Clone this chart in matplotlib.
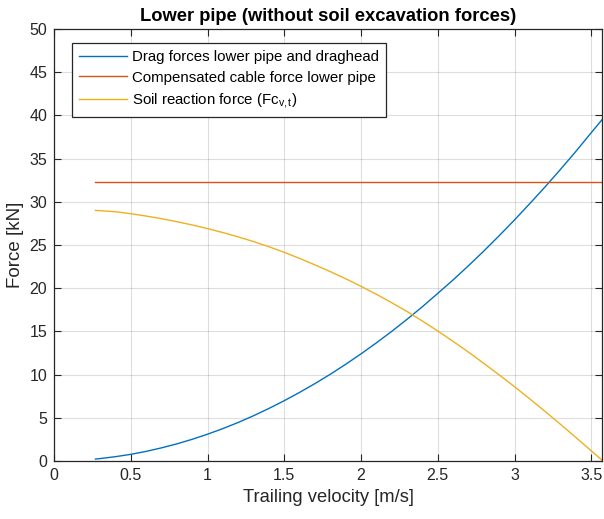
import matplotlib
matplotlib.use("Agg")
import matplotlib.pyplot as plt

plt.rcParams['font.family'] = ['Liberation Sans', 'DejaVu Sans']
plt.rcParams['mathtext.fontset'] = 'custom'
plt.rcParams['mathtext.rm'] = 'Liberation Sans'
plt.rcParams['mathtext.it'] = 'Liberation Sans'

velocity = [0.27, 0.3, 0.4, 0.5, 0.6, 0.7, 0.8, 0.9, 1.0, 1.1, 1.2, 1.3, 1.4, 1.5,
            1.6, 1.7, 1.8, 1.9, 2.0, 2.1, 2.2, 2.3, 2.4, 2.5, 2.6, 2.7, 2.8, 2.9,
            3.0, 3.1, 3.2, 3.3, 3.4, 3.5, 3.57]
drag_force = [0.22, 0.28, 0.50, 0.77, 1.11, 1.52, 1.98, 2.51, 3.1, 3.75, 4.46, 5.24,
              6.08, 6.98, 7.94, 8.96, 10.04, 11.19, 12.4, 13.67, 15.0, 16.4, 17.86,
              19.4, 20.96, 22.6, 24.3, 26.07, 27.9, 29.8, 31.74, 33.76, 35.84, 38.0, 39.5]
cable_force = [32.25] * len(velocity)
soil_force = [29.0, 28.97, 28.85, 28.62, 28.35, 28.05, 27.7, 27.32, 26.9, 26.44, 25.94,
              25.4, 24.8, 24.15, 23.45, 22.7, 21.92, 21.1, 20.22, 19.3, 18.32, 17.3,
              16.2, 15.05, 13.85, 12.6, 11.3, 9.97, 8.6, 7.18, 5.73, 4.24, 2.72, 1.18, 0.1]

labels = ['Drag forces lower pipe and draghead',
          'Compensated cable force lower pipe',
          r'Soil reaction force (Fc$_{\mathrm{v,t}}$)']
colors = ['#0072BD', '#D95319', '#EDB120']

fig = plt.figure(figsize=(6.04, 5.19), dpi=100)
ax = fig.add_axes([54/604, 58/519, 548/604, 432/519])

ax.plot(velocity, drag_force, color=colors[0], lw=1.0, label=labels[0])
ax.plot(velocity, cable_force, color=colors[1], lw=1.0, label=labels[1])
ax.plot(velocity, soil_force, color=colors[2], lw=1.0, label=labels[2])

ax.set_xlim(0, 3.57)
ax.set_ylim(0, 50)
ax.set_xticks([0, 0.5, 1, 1.5, 2, 2.5, 3, 3.5])
ax.set_xticklabels(['0', '0.5', '1', '1.5', '2', '2.5', '3', '3.5'])
ax.set_yticks(range(0, 51, 5))
ax.grid(True, color='#262626', alpha=0.15, lw=0.8)
ax.set_axisbelow(True)
ax.tick_params(direction='in', length=5, width=0.8, top=True, right=True,
               labelsize=11.5, colors='#262626', pad=5)
for s in ax.spines.values():
    s.set_color('#262626')
    s.set_linewidth(0.9)

ax.set_xlabel('Trailing velocity [m/s]', fontsize=13.2, color='#262626', labelpad=4)
ax.set_ylabel('Force [kN]', fontsize=13.5, color='#262626', labelpad=4)
ax.set_title('Lower pipe (without soil excavation forces)', fontsize=13.2,
             fontweight='bold', color='#000000', pad=6)

leg = ax.legend(loc='upper left', bbox_to_anchor=(18/548, 1 - 14/432), fontsize=10.85,
                frameon=True, fancybox=False, edgecolor='#262626', framealpha=1,
                handlelength=3.2, handletextpad=0.33, borderpad=0.45, labelspacing=0.45,
                borderaxespad=0)
leg.get_frame().set_linewidth(0.9)

fig.savefig('out.png', dpi=100)
